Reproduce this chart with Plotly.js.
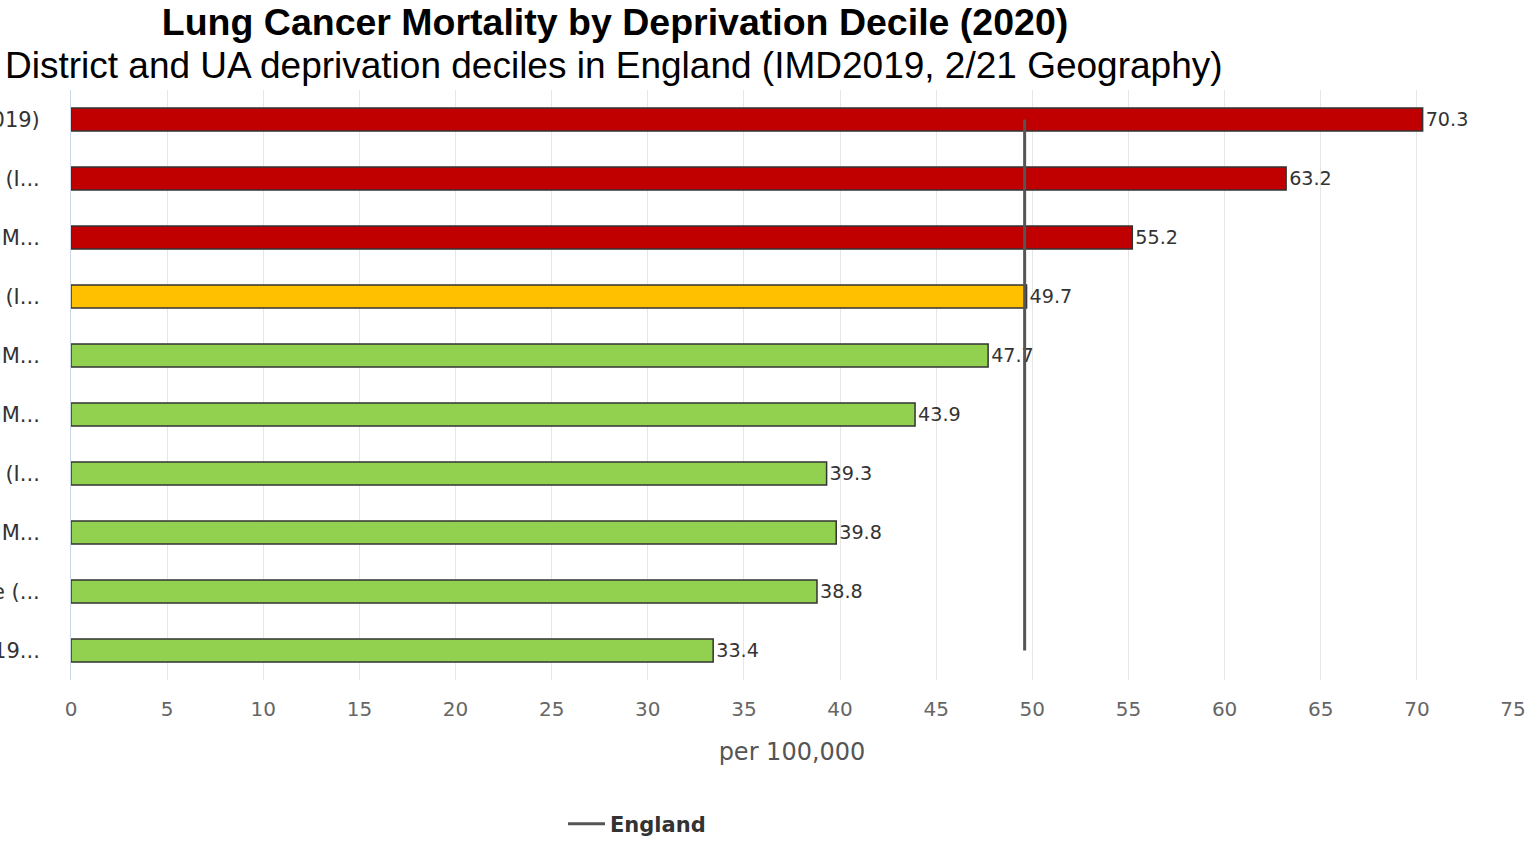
<!DOCTYPE html>
<html>
<head>
<meta charset="utf-8">
<script src="https://cdn.plot.ly/plotly-3.0.1.min.js"></script>
<style>
  html, body { margin: 0; padding: 0; background: #ffffff; }
  #chart { width: 1537px; height: 843px; }
</style>
</head>
<body>
<div id="chart"></div>
<script>
// Deprivation decile labels (shortened to 30 characters, as shown on the axis)
const decileLabels = [
  'Most deprived decile (IMD2019)',
  'Second most deprived decile (I...',
  'Third more deprived decile (IM...',
  'Fourth more deprived decile (I...',
  'Fifth more deprived decile (IM...',
  'Fifth less deprived decile (IM...',
  'Fourth less deprived decile (I...',
  'Third less deprived decile (IM...',
  'Second least deprived decile (...',
  'Least deprived decile (IMD2019...'
];

// Directly standardised mortality rate per 100,000
const mortalityRates = [70.3, 63.2, 55.2, 49.7, 47.7, 43.9, 39.3, 39.8, 38.8, 33.4];

// Comparison with the England value: worse / similar / better
const comparisonColours = [
  '#C00000', '#C00000', '#C00000', '#FFC000', '#92D050',
  '#92D050', '#92D050', '#92D050', '#92D050', '#92D050'
];

// England benchmark rate
const englandName = 'England';
const englandRate = 49.6;

const xTicks = [0, 5, 10, 15, 20, 25, 30, 35, 40, 45, 50, 55, 60, 65, 70, 75];

const bodyFont = 'DejaVu Sans, Verdana, sans-serif';
const titleFont = 'Liberation Sans, Arial, sans-serif';

const bars = {
  type: 'bar',
  orientation: 'h',
  y: decileLabels,
  x: mortalityRates,
  width: 0.39,
  marker: {
    color: comparisonColours,
    line: { color: '#333333', width: 1.5 }
  },
  text: mortalityRates.map(v => v.toFixed(1)),
  textposition: 'outside',
  cliponaxis: false,
  textfont: { family: bodyFont, size: 20, color: '#333333' },
  hoverinfo: 'x+y',
  showlegend: false
};

const englandLine = {
  type: 'scatter',
  mode: 'lines',
  name: englandName,
  y: decileLabels,
  x: decileLabels.map(() => englandRate),
  line: { color: '#555555', width: 3 },
  hoverinfo: 'name+x'
};

const layout = {
  width: 1537,
  height: 843,
  paper_bgcolor: '#ffffff',
  plot_bgcolor: '#ffffff',
  margin: { l: 71, r: 24, t: 90, b: 163, autoexpand: false },
  bargap: 0,
  title: {
    text: '<b>Lung Cancer Mortality by Deprivation Decile (2020)</b>',
    font: { family: titleFont, size: 37.5, color: '#000000' },
    x: 615 / 1537,
    xanchor: 'center',
    xref: 'container',
    y: 1 - 22 / 843,
    yanchor: 'middle',
    yref: 'container'
  },
  annotations: [{
    text: 'District and UA deprivation deciles in England (IMD2019, 2/21 Geography)',
    font: { family: titleFont, size: 37, color: '#000000' },
    xref: 'paper', yref: 'paper',
    x: (614 - 71) / 1442, y: 1 + 25 / 590,
    xanchor: 'center', yanchor: 'middle',
    showarrow: false
  }],
  xaxis: {
    range: [0, 75],
    tickvals: xTicks,
    ticktext: xTicks.map(String),
    showgrid: true,
    gridcolor: '#e6e6e6',
    gridwidth: 1,
    zeroline: false,
    showline: false,
    ticks: '',
    ticklabelstandoff: 15,
    tickfont: { family: bodyFont, size: 20, color: '#666666' },
    title: {
      text: 'per 100,000',
      font: { family: bodyFont, size: 24, color: '#555555' },
      standoff: 23
    },
    automargin: false,
    fixedrange: true
  },
  yaxis: {
    type: 'category',
    range: [decileLabels.length - 0.5, -0.5],
    showgrid: false,
    zeroline: false,
    showline: true,
    linecolor: '#ccd6eb',
    linewidth: 1,
    ticks: '',
    ticklabelstandoff: 26,
    tickfont: { family: bodyFont, size: 21, color: '#333333' },
    automargin: false,
    fixedrange: true
  },
  legend: {
    orientation: 'h',
    x: (563 - 71) / 1442,
    xanchor: 'left',
    y: -(824 - 680) / 590,
    yanchor: 'middle',
    itemwidth: 37,
    font: { family: bodyFont, size: 21, color: '#333333', weight: 'bold' },
    bgcolor: 'rgba(0,0,0,0)'
  },
  showlegend: true
};

Plotly.newPlot('chart', [bars, englandLine], layout, { displayModeBar: false, staticPlot: true });
</script>
</body>
</html>
